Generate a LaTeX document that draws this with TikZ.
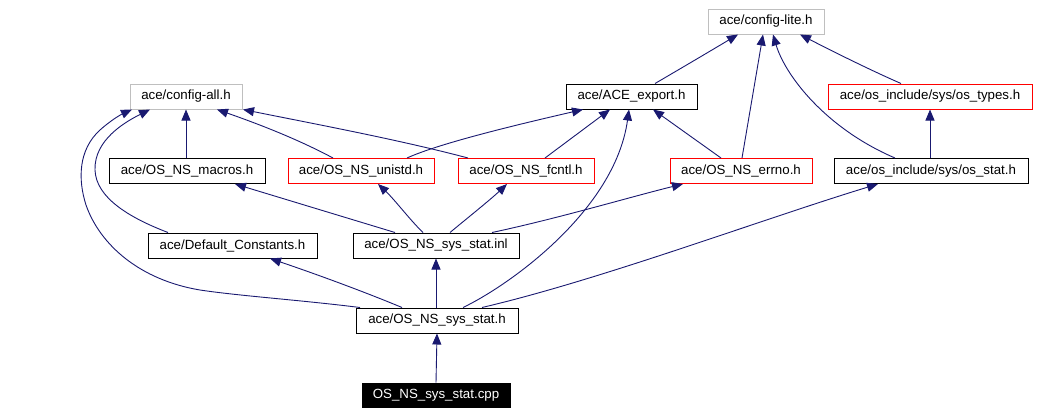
\documentclass[tikz,border=0pt]{standalone}
\usepackage{fontspec}
\setmainfont{Liberation Sans}
\usetikzlibrary{arrows.meta,calc}
\definecolor{edgeblue}{HTML}{191970}
\definecolor{boxgray}{HTML}{BFBFBF}
\tikzset{
  box/.style={draw, line width=1pt, rectangle, inner sep=0pt, minimum height=25pt,
    font=\fontsize{13.3}{16}\selectfont, text=black},
  graybox/.style={box, draw=boxgray},
  redbox/.style={box, draw=red},
  blackbox/.style={box, draw=black},
  rootbox/.style={box, draw=black, fill=black, text=white, minimum height=24pt},
  edge/.style={draw=edgeblue, line width=0.9pt, -{Triangle[length=11pt,width=9pt]}}
}
\begin{document}
\begin{tikzpicture}[x=1pt,y=-1pt]
\useasboundingbox (0,0) rectangle (1038,415);
% nodes
\node[graybox, minimum width=116pt] (lite) at (766,21.5) {ace/config-lite.h};
\node[graybox, minimum width=112pt] (all) at (186,96.5) {ace/config-all.h};
\node[blackbox, minimum width=131pt] (ace) at (631.5,96.5) {ace/ACE\_export.h};
\node[redbox, minimum width=204pt] (types) at (930,96.5) {ace/os\_include/sys/os\_types.h};
\node[blackbox, minimum width=156pt] (macros) at (187,171) {ace/OS\_NS\_macros.h};
\node[redbox, minimum width=146pt] (unistd) at (361,171) {ace/OS\_NS\_unistd.h};
\node[redbox, minimum width=136pt] (fcntl) at (526,171) {ace/OS\_NS\_fcntl.h};
\node[redbox, minimum width=142pt] (errno) at (741,171) {ace/OS\_NS\_errno.h};
\node[blackbox, minimum width=194pt] (ostat) at (931,171) {ace/os\_include/sys/os\_stat.h};
\node[blackbox, minimum width=169pt] (defc) at (232.5,245.5) {ace/Default\_Constants.h};
\node[blackbox, minimum width=166pt] (inl) at (436,245.5) {ace/OS\_NS\_sys\_stat.inl};
\node[blackbox, minimum width=162pt] (sysh) at (437,320.5) {ace/OS\_NS\_sys\_stat.h};
\node[rootbox, minimum width=148pt] (cpp) at (436,395) {OS\_NS\_sys\_stat.cpp};
% edges to config-lite
\draw[edge] ($(ace.north)+(23.5,0)$) .. controls (685,66) and (712,50) .. ($(lite.south)+(-28,0)$);
\draw[edge] ($(errno.north)+(1,0)$) -- ($(lite.south)+(-3,0)$);
\draw[edge] ($(ostat.north)+(-36,0)$) .. controls (825,128) and (785,75) .. ($(lite.south)+(7,0)$);
\draw[edge] ($(types.north)+(-29,0)$) .. controls (870,70) and (830,50) .. ($(lite.south)+(34,0)$);
\draw[edge] ($(ostat.north)+(-1,0)$) -- (types.south);
% edges to config-all
\draw[edge] ($(unistd.north)+(-28,0)$) .. controls (305,143) and (270,128) .. ($(all.south)+(31,0)$);
\draw[edge] ($(fcntl.north)+(-58,0)$) .. controls (400,140) and (320,125) .. ($(all.south)+(57,0)$);
\draw[edge] ($(macros.north)+(-1,0)$) -- (all.south);
\draw[edge] ($(defc.north)+(-64.5,0)$) .. controls (130,218) and (96,198) .. (95,170)
  .. controls (94,140) and (125,122) .. ($(all.south)+(-36,0)$);
\draw[edge] ($(sysh.north)+(-77,0)$) .. controls (300,300) and (240,296) .. (200,290)
  .. controls (140,280) and (100,245) .. (86,205)
  .. controls (78,180) and (78,150) .. (100,130)
  .. controls (110,121) and (120,115) .. ($(all.south)+(-54,0)$);
% edges to ACE_export
\draw[edge] ($(unistd.north)+(46,0)$) .. controls (440,143) and (520,124) .. ($(ace.south)+(-48.5,0)$);
\draw[edge] ($(fcntl.north)+(19,0)$) -- ($(ace.south)+(-21.5,0)$);
\draw[edge] ($(errno.north)+(-20,0)$) -- ($(ace.south)+(21.5,0)$);
\draw[edge] ($(sysh.north)+(26,0)$) .. controls (510,285) and (615,210) .. ($(ace.south)+(-2.5,0)$);
% edges from inl
\draw[edge] ($(inl.north)+(-41,0)$) -- ($(macros.south)+(48,0)$);
\draw[edge] ($(inl.north)+(-13,0)$) .. controls (410,220) and (395,200) .. ($(unistd.south)+(17,0)$);
\draw[edge] ($(inl.north)+(14,0)$) .. controls (465,220) and (490,200) .. ($(fcntl.south)+(-19,0)$);
\draw[edge] ($(inl.north)+(56,0)$) .. controls (560,218) and (630,197) .. ($(errno.south)+(-58,0)$);
% edges from sys_stat.h
\draw[edge] ($(sysh.north)+(-35,0)$) .. controls (360,290) and (310,272) .. ($(defc.south)+(37.5,0)$);
\draw[edge] ($(sysh.north)+(-1,0)$) -- (inl.south);
\draw[edge] ($(sysh.north)+(45,0)$) .. controls (600,280) and (760,220) .. ($(ostat.south)+(-53,0)$);
\draw[edge] (cpp.north) -- (sysh.south);
\end{tikzpicture}
\end{document}
